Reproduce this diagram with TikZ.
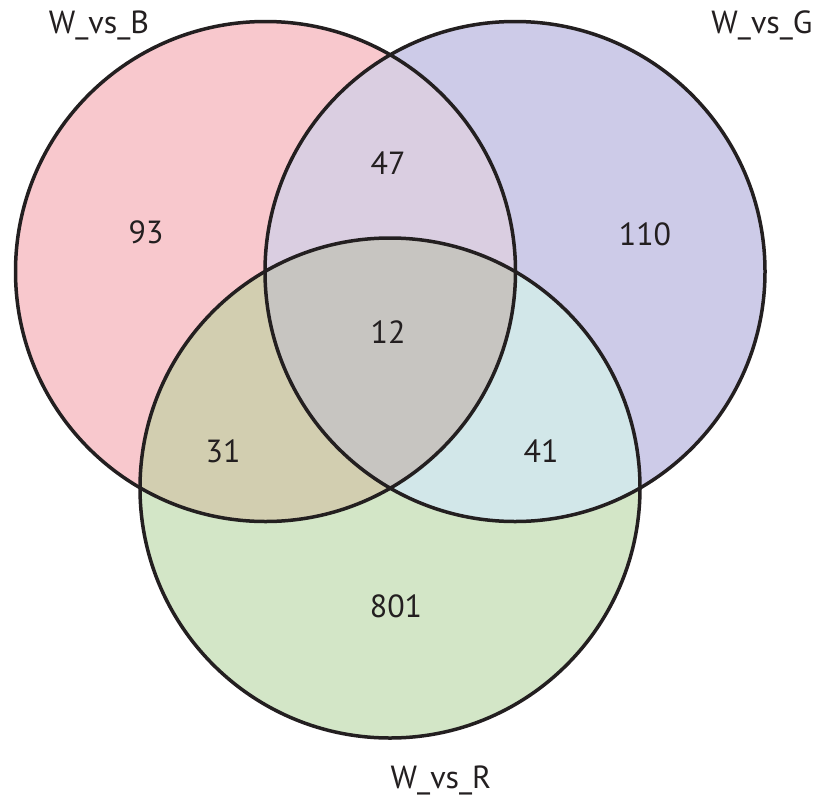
\documentclass[tikz,border=0pt]{standalone}
\usepackage{fontspec}
\setmainfont{PT Sans}
\definecolor{cB}{RGB}{248,200,205}
\definecolor{cG}{RGB}{205,203,232}
\definecolor{cR}{RGB}{211,230,199}
\definecolor{cBG}{RGB}{218,206,225}
\definecolor{cBR}{RGB}{210,206,176}
\definecolor{cGR}{RGB}{210,231,233}
\definecolor{cALL}{RGB}{199,197,193}
\definecolor{ink}{RGB}{35,31,32}
\begin{document}
\begin{tikzpicture}[x=1pt,y=-1pt,
  ring/.style={draw=ink,line width=3.5pt},
  num/.style={anchor=base,inner sep=0pt,font=\fontsize{32}{36}\selectfont,text=ink},
  lab/.style={anchor=base,inner sep=0pt,font=\fontsize{32}{36}\selectfont,text=ink}]
\useasboundingbox (0,0) rectangle (819,798);
\def\cB{(265.5,271.5) circle (250)}
\def\cG{(515,271.5) circle (250)}
\def\cR{(390,488) circle (250)}
\fill[cB] \cB;
\fill[cG] \cG;
\fill[cR] \cR;
\begin{scope}\clip \cB; \fill[cBG] \cG; \fill[cBR] \cR; \end{scope}
\begin{scope}\clip \cG; \fill[cGR] \cR; \end{scope}
\begin{scope}\clip \cB; \clip \cG; \fill[cALL] \cR; \end{scope}
\draw[ring] \cB;
\draw[ring] \cG;
\draw[ring] \cR;
\node[lab] (lB) at (99,33) {W\_vs\_B};
\node[lab] (lG) at (762,33) {W\_vs\_G};
\node[lab] (lR) at (441,788) {W\_vs\_R};
\node[num] (n93) at (146,243) {93};
\node[num] (n47) at (388,174) {47};
\node[num] (n110) at (645,245) {110};
\node[num] (n12) at (388,343) {12};
\node[num] (n31) at (223,462) {31};
\node[num] (n41) at (541,462) {41};
\node[num] (n801) at (396,617) {801};
\end{tikzpicture}
\end{document}
